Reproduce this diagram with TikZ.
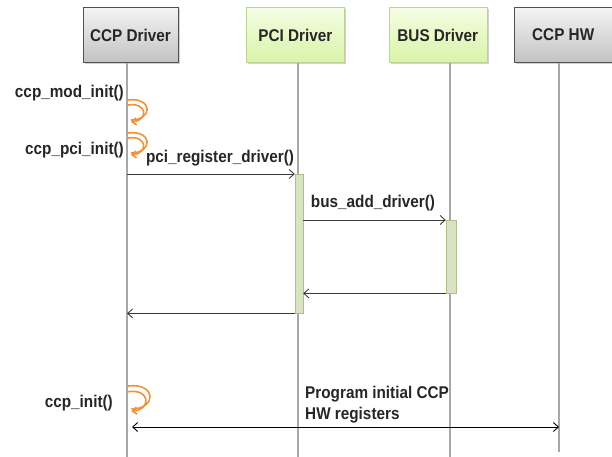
\documentclass[tikz,border=0pt]{standalone}
\usepackage{fontspec}
\setmainfont{Liberation Sans}[FakeStretch=0.9]
\usepackage{tikz}
\usetikzlibrary{arrows.meta, positioning, shadows}
\definecolor{ink}{HTML}{262626}
\definecolor{msgink}{HTML}{3A3A3A}
\definecolor{lifegray}{HTML}{A8A8A8}
\definecolor{callorange}{HTML}{F0923A}
\definecolor{actfill}{HTML}{D9E3C1}
\definecolor{actdraw}{HTML}{AEBF8E}
\definecolor{hwtop}{HTML}{F4F4F4}
\definecolor{hwbot}{HTML}{C2C2C2}
\definecolor{swtop}{HTML}{F6FDE4}
\definecolor{swbot}{HTML}{D8F4A6}

\begin{document}
\begin{tikzpicture}[x=1bp, y=-1bp, font=\bfseries\fontsize{17bp}{21bp}\selectfont,
      text=ink, inner sep=2bp, node distance=1bp,
      hwbox/.style={draw=ink!80, top color=hwtop, bottom color=hwbot,
        minimum width=98bp, minimum height=55bp,
        drop shadow={shadow xshift=2bp, shadow yshift=-2bp, fill=black!35, opacity=.5}},
      swbox/.style={hwbox, draw=swbot!70!gray, top color=swtop, bottom color=swbot},
      life/.style={lifegray, line width=1.4bp},
      act/.style={draw=actdraw, fill=actfill, inner sep=0pt},
      msg/.style={msgink, line width=0.9bp, -{Straight Barb[length=5bp,width=9bp]}},
      selfcall/.style={callorange, line width=1.6bp},
      selfloop/.pic={
        \draw[selfcall] (0,0) .. controls (25,-3) and (25,20) .. (3,20);
        \draw[selfcall, -{Straight Barb[length=4bp,width=7bp]}]
          (0,5) .. controls (19,2) and (21,20) .. (3,22);
      }]
    \useasboundingbox (0,0) rectangle (612,457);

    % participants
    \node[hwbox, minimum width=95bp] (ccp) at (130.5,35) {CCP Driver};
    \node[swbox, right=68bp of ccp] (pci) {PCI Driver};
    \node[swbox, right=44bp of pci] (bus) {BUS Driver};
    \node[hwbox, right=27bp of bus] (hw) {CCP HW};

    % lifelines
    \coordinate (ccpend) at (127,457);
    \coordinate (pciend) at (298,457);
    \coordinate (busend) at (450,457);
    \coordinate (hwend) at (559,452);
    \draw[life] (ccp.south -| ccpend) -- (ccpend);
    \draw[life] (pci.south -| pciend) -- (pciend);
    \draw[life] (bus.south -| busend) -- (busend);
    \draw[life] (hw.south -| hwend) -- (hwend);

    % activations
    \node[act, minimum width=8bp, minimum height=139bp, anchor=north] (pciact) at (299,174) {};
    \node[act, minimum width=10bp, minimum height=73bp, anchor=north] (busact) at (451,220) {};

    % module init calls
    \node[anchor=east] (modinit) at (126,93) {ccp\_mod\_init()};
    \pic at (128,100) {selfloop};
    \node[anchor=east] (pciinit) at (126,150) {ccp\_pci\_init()};
    \pic at (128,133) {selfloop};

    \node (regl) at (220,158) {pci\_register\_driver()};
    \draw[msg] (ccpend |- pciact.north) -- (pciact.north west);
    \node (addl) at (373,203) {bus\_add\_driver()};
    \draw[msg] (pciact.east |- busact.north) -- (busact.north west);
    \draw[msg] (busact.south west) -- (pciact.east |- busact.south);
    \draw[msg] (pciact.south west) -- (ccpend |- pciact.south);

    % probe
    \node[anchor=east] (ccpinit) at (115,403) {ccp\_init()};
    \pic[scale=1.15] at (128,386) {selfloop};
    \node[anchor=west, align=left] (prog) at (303,405) {Program initial CCP\\HW registers};
    \coordinate (initrow) at (0,427);
    \draw[black, line width=0.9bp, {Straight Barb[length=5bp,width=9bp]}-{Straight Barb[length=5bp,width=9bp]},
      shorten <=5bp] (ccpend |- initrow) -- (hwend |- initrow);
  \end{tikzpicture}
\end{document}
